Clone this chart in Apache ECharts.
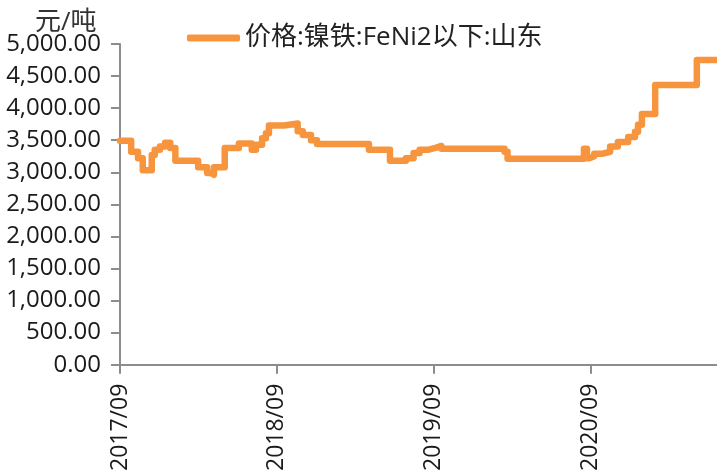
<!DOCTYPE html>
<html>
<head>
<meta charset="utf-8">
<script src="https://cdn.jsdelivr.net/npm/echarts@6/dist/echarts.min.js"></script>
<style>
html,body{margin:0;padding:0;background:#fff;}
#chart{width:717px;height:474px;}
</style>
</head>
<body>
<div id="chart"></div>
<script>
// Data: change points (date, value) of the weekly price series
const seriesName = '价格:镍铁:FeNi2以下:山东';
const unitLabel = '元/吨';
const dates = [
  '2017-09-01','2017-09-27','2017-10-13','2017-10-24','2017-11-14','2017-11-21','2017-12-03','2017-12-15','2017-12-27',
  '2018-01-08','2018-03-02','2018-03-23','2018-04-01','2018-04-08','2018-05-03','2018-06-05','2018-07-05','2018-07-15',
  '2018-07-29','2018-08-07','2018-08-14','2018-09-18','2018-10-20','2018-11-01','2018-11-20','2018-12-04',
  '2019-04-04','2019-05-23','2019-06-29','2019-07-17','2019-07-31','2019-08-19','2019-09-06','2019-09-20',
  '2020-02-14','2020-02-21','2020-08-17','2020-08-24','2020-08-31','2020-09-10','2020-09-30','2020-10-17',
  '2020-11-04','2020-11-28','2020-12-14','2020-12-21','2020-12-30','2021-01-30','2021-05-07','2021-06-23'
];
const values = [
  3490,3320,3220,3030,3270,3350,3400,3460,3380,
  3180,3080,2990,2960,3080,3380,3450,3350,3430,
  3530,3610,3730,3760,3640,3580,3500,3440,
  3350,3180,3220,3300,3350,3380,3410,3365,
  3320,3210,3365,3220,3250,3290,3320,3400,
  3470,3550,3630,3740,3910,4360,4750,4750
];
const tickLabels = ['2017-09-01','2018-09-01','2019-09-01','2020-09-01'];
const xStart = '2017-09-01', xEnd = '2021-06-23';
const yMin = 0, yMax = 5000, yStep = 500;

const toTs = s => { const p = s.split('-').map(Number); return Date.UTC(p[0], p[1]-1, p[2]); };
const tickTs = tickLabels.map(toTs);
const data = dates.map((d,i) => [toTs(d), values[i]]);

const chart = echarts.init(document.getElementById('chart'));
const FONT = '"Open Sans", "Noto Sans CJK SC", sans-serif';
const AXIS_COLOR = '#8c8c8c';
const TEXT_COLOR = '#1a1a1a';
chart.setOption({
  animation: false,
  title: {
    text: unitLabel, left: 30, top: 5,
    textStyle: {fontSize: 26, fontWeight: 'normal', color: '#333', fontFamily: FONT}
  },
  legend: {
    left: 182, top: 20,
    itemWidth: 53, itemHeight: 7, itemGap: 10,
    textStyle: {fontSize: 26, color: '#222', fontFamily: FONT},
    data: [{name: seriesName, icon: 'roundRect'}]
  },
  grid: {left: 120, right: 0, top: 44, bottom: 109, containLabel: false},
  xAxis: {
    type: 'value',
    min: toTs(xStart),
    max: toTs(xEnd),
    splitLine: {show: false},
    axisLine: {lineStyle: {color: AXIS_COLOR, width: 2}},
    axisTick: {show: true, length: 9, lineStyle: {color: AXIS_COLOR, width: 2}, customValues: tickTs},
    axisLabel: {
      customValues: tickTs,
      rotate: 90, margin: 19,
      fontSize: 23, color: TEXT_COLOR, fontFamily: FONT,
      formatter: v => { const d = new Date(v); return d.getUTCFullYear() + '/' + String(d.getUTCMonth()+1).padStart(2,'0'); }
    }
  },
  yAxis: {
    type: 'value', min: yMin, max: yMax, interval: yStep,
    splitLine: {show: false},
    axisLine: {show: true, lineStyle: {color: AXIS_COLOR, width: 2}},
    axisTick: {show: true, length: 9, lineStyle: {color: AXIS_COLOR, width: 2}},
    axisLabel: {
      fontSize: 24, color: TEXT_COLOR, fontFamily: FONT, margin: 19,
      formatter: v => v.toLocaleString('en-US', {minimumFractionDigits: 2, maximumFractionDigits: 2})
    }
  },
  series: [{
    name: seriesName,
    type: 'line',
    step: 'end',
    showSymbol: false,
    symbol: 'none',
    data: data,
    itemStyle: {color: '#F7953F'},
    lineStyle: {color: '#F7953F', width: 6.5, join: 'round', cap: 'round'}
  }]
});
</script>
</body>
</html>
